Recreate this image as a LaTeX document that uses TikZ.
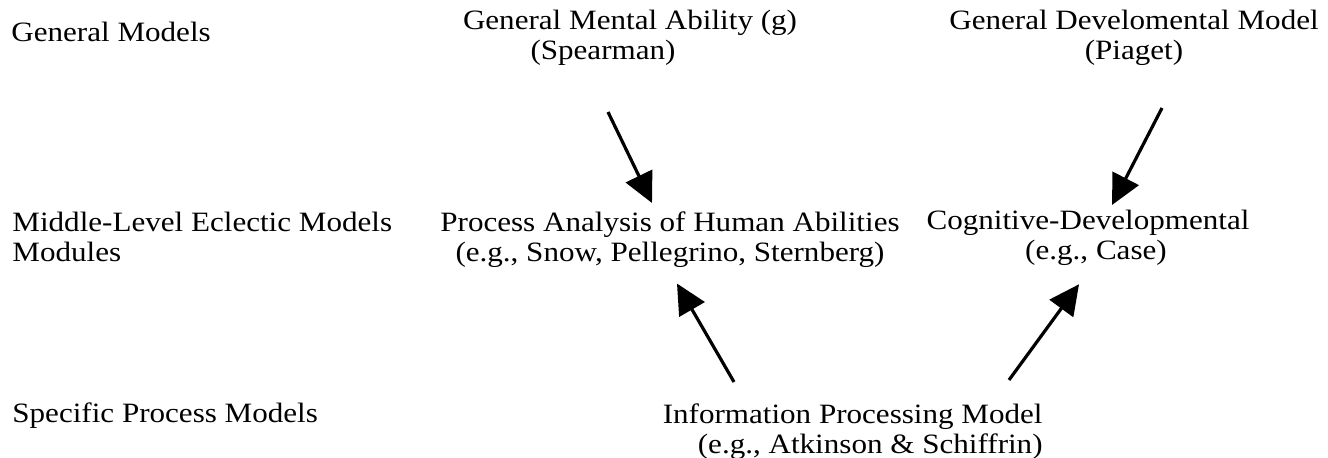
\documentclass[tikz,border=0pt]{standalone}
\usepackage{fontspec}
\setmainfont{Liberation Serif}[FakeStretch=1.11]
\usetikzlibrary{arrows.meta}
\newcommand\lblfont{\fontsize{14}{15}\selectfont\lineskiplimit=-100pt\relax}

\begin{document}
\begin{tikzpicture}[
  x=0.5pt,y=-0.5pt,%
  every node/.style={inner sep=0pt,font=\lblfont},%
  lvl/.style={anchor=base west,align=left},%
  m/.style={anchor=north,align=center},%
  e/.style={-{Triangle[length=15pt,width=14.5pt]},line width=1.6pt},%
  ]
  \useasboundingbox (0,0) rectangle (1328,458);

  % levels, left column
  \node (general) [lvl] at (11,42) {General Models};
  \node (middle) [lvl,anchor=north west] at (12,212) {Middle-Level Eclectic Models\\Modules};
  \node (specific) [lvl] at (12,423) {Specific Process Models};

  % models
  \node (ability) [m] at (630,10) {General Mental Ability (g)\\(Spearman)\hspace*{27pt}};
  \node (piaget) [m] at (1134,10) {General Develomental Model\\(Piaget)};
  \node (process) [m] at (670,211) {Process Analysis of Human Abilities\\(e.g., Snow, Pellegrino, Sternberg)};
  \node (cogdev) [m] at (1088,210) {Cognitive-Developmental\\\hspace*{8pt}(e.g., Case)};
  \node (info) [m,anchor=north east,align=right] at (1043,403) {Information Processing Model\\(e.g., Atkinson \& Schiffrin)};

  % free ends of the arrows
  \coordinate (abilityout) at (608,112);
  \coordinate (piagetout) at (1162,108);
  \coordinate (infoleft) at (734,382);
  \coordinate (inforight) at (1009,380);

  \draw [e] (abilityout) -- ([xshift=-9pt,yshift=4pt]process.north);
  \draw [e] (piagetout) -- ([xshift=12pt,yshift=2.5pt]cogdev.north);
  \draw [e] (infoleft) -- ([xshift=3.5pt,yshift=-8pt]process.south);
  \draw [e] (inforight) -- ([xshift=-4.5pt,yshift=-9pt]cogdev.south);
\end{tikzpicture}
\end{document}
